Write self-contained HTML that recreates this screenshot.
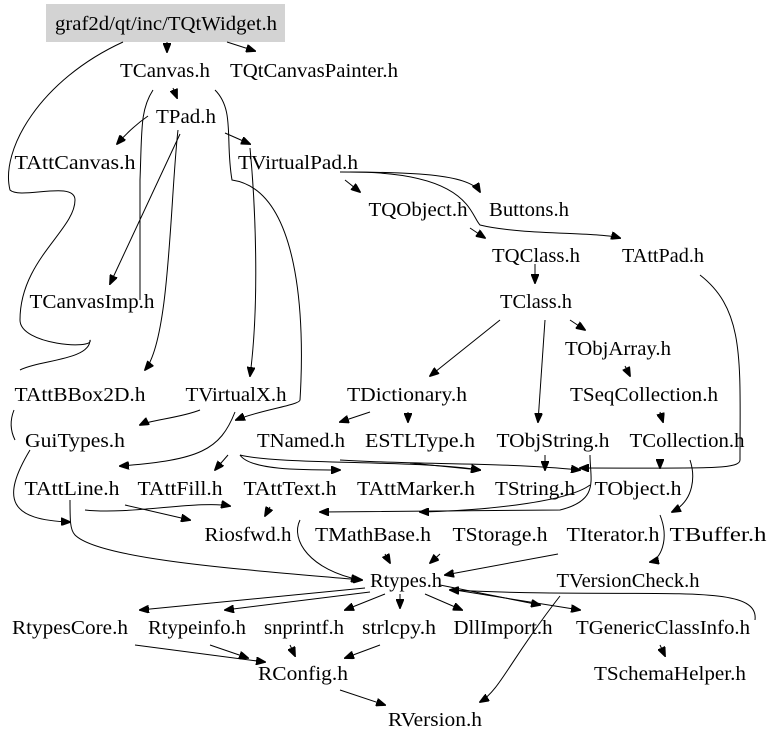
<!DOCTYPE html>
<html><head><meta charset="utf-8"><style>
html,body{margin:0;padding:0;background:#fff;width:768px;height:744px;overflow:hidden}
svg text{font-family:"Liberation Serif",serif;font-size:20px;fill:#000;text-anchor:middle}
path,line{stroke:#000;fill:none;stroke-width:1}
</style></head><body>
<svg width="768" height="744" viewBox="0 0 768 744">
<defs><marker id="a" markerWidth="10" markerHeight="8" refX="9" refY="4" orient="auto" markerUnits="userSpaceOnUse"><path d="M0,0 L10,4 L0,8 Z" style="fill:#000;stroke:#000"/></marker></defs>
<rect x="46" y="4" width="239" height="38" fill="#d3d3d3"/>
<g marker-end="url(#a)">
<line x1="167" y1="42" x2="167" y2="52"/>
<line x1="227" y1="42" x2="255" y2="51"/>
<line x1="173" y1="88" x2="177" y2="98"/>
<path d="M148,116 C135,125 125,135 117,144"/>
<line x1="225" y1="133" x2="250" y2="144"/>
<line x1="180" y1="134" x2="110" y2="284"/>
<path d="M178,130 C170,200 170,340 145,370"/>
<path d="M340,172 C420,172 470,175 480,192"/>
<path d="M350,172 C470,172 470,215 480,225 C520,235 600,232 620,238"/>
<line x1="345" y1="180" x2="360" y2="192"/>
<line x1="470" y1="228" x2="485" y2="238"/>
<line x1="535" y1="264" x2="535" y2="283"/>
<line x1="570" y1="320" x2="585" y2="330"/>
<line x1="500" y1="320" x2="430" y2="376"/>
<line x1="625" y1="366" x2="630" y2="376"/>
<line x1="660" y1="412" x2="663" y2="422"/>
<line x1="370" y1="412" x2="340" y2="422"/>
<line x1="408" y1="412" x2="408" y2="422"/>
<line x1="545" y1="320" x2="538" y2="422"/>
<path d="M700,275 C745,310 740,360 740,460 C740,470 700,468 580,468"/>
<path d="M250,148 C255,200 260,300 250,376"/>
<path d="M215,90 C235,110 225,140 232,180 C300,190 305,320 300,400 C300,405 260,410 236,420"/>
<path d="M200,410 C180,418 150,420 140,425"/>
<path d="M235,412 C220,450 200,460 120,466"/>
<line x1="228" y1="455" x2="215" y2="470"/>
<path d="M240,455 C250,470 300,470 340,470"/>
<path d="M240,455 C280,465 420,460 480,470"/>
<path d="M340,460 C420,465 500,462 580,470"/>
<line x1="545" y1="455" x2="545" y2="470"/>
<line x1="410" y1="463" x2="480" y2="470"/>
<path d="M660,460 L660,468"/>
<path d="M690,460 C695,475 695,500 672,512"/>
<path d="M125,505 L190,520"/>
<path d="M85,510 C130,515 200,500 230,506"/>
<line x1="270" y1="507" x2="265" y2="516"/>
<path d="M590,455 C590,480 600,500 560,510 L320,512"/>
<path d="M590,485 C570,500 500,510 420,512"/>
<path d="M300,520 C290,540 310,570 360,580"/>
<path d="M70,500 C70,520 70,530 75,535 C100,560 250,570 362,580"/>
<path d="M30,450 C0,500 10,520 70,522"/>
<line x1="385" y1="554" x2="390" y2="563"/>
<line x1="440" y1="554" x2="430" y2="563"/>
<line x1="558" y1="554" x2="445" y2="575"/>
<path d="M660,515 C670,540 660,560 650,562"/>
<line x1="365" y1="588" x2="140" y2="610"/>
<line x1="370" y1="592" x2="225" y2="610"/>
<line x1="385" y1="594" x2="345" y2="610"/>
<line x1="400" y1="594" x2="400" y2="608"/>
<line x1="425" y1="594" x2="462" y2="610"/>
<line x1="455" y1="590" x2="580" y2="610"/>
<line x1="440" y1="585" x2="540" y2="605"/>
<path d="M755,620 C760,580 650,600 450,590"/>
<path d="M560,596 C510,660 500,690 480,702"/>
<line x1="135" y1="645" x2="265" y2="662"/>
<line x1="210" y1="645" x2="248" y2="658"/>
<line x1="290" y1="645" x2="295" y2="656"/>
<line x1="380" y1="645" x2="345" y2="658"/>
<line x1="660" y1="645" x2="665" y2="656"/>
<line x1="340" y1="690" x2="385" y2="705"/>
</g>
<path d="M123,42 C40,80 0,150 10,190 C20,200 75,180 75,200 C75,230 20,260 20,320 C20,345 95,350 90,340 C90,360 40,360 20,370"/>
<path d="M153,90 C140,110 142,130 140,180 L140,300"/>
<path d="M14,410 C10,420 10,430 15,440"/>
<text x="166" y="30" textLength="222" lengthAdjust="spacingAndGlyphs">graf2d/qt/inc/TQtWidget.h</text>
<text x="165" y="77" textLength="90" lengthAdjust="spacingAndGlyphs">TCanvas.h</text>
<text x="314" y="77" textLength="168" lengthAdjust="spacingAndGlyphs">TQtCanvasPainter.h</text>
<text x="186" y="123" textLength="60" lengthAdjust="spacingAndGlyphs">TPad.h</text>
<text x="75" y="169" textLength="121" lengthAdjust="spacingAndGlyphs">TAttCanvas.h</text>
<text x="298" y="169" textLength="120" lengthAdjust="spacingAndGlyphs">TVirtualPad.h</text>
<text x="418" y="216" textLength="99" lengthAdjust="spacingAndGlyphs">TQObject.h</text>
<text x="529" y="216" textLength="80" lengthAdjust="spacingAndGlyphs">Buttons.h</text>
<text x="536" y="262" textLength="88" lengthAdjust="spacingAndGlyphs">TQClass.h</text>
<text x="663" y="262" textLength="82" lengthAdjust="spacingAndGlyphs">TAttPad.h</text>
<text x="92" y="308" textLength="125" lengthAdjust="spacingAndGlyphs">TCanvasImp.h</text>
<text x="536" y="308" textLength="72" lengthAdjust="spacingAndGlyphs">TClass.h</text>
<text x="618" y="355" textLength="106" lengthAdjust="spacingAndGlyphs">TObjArray.h</text>
<text x="80" y="401" textLength="131" lengthAdjust="spacingAndGlyphs">TAttBBox2D.h</text>
<text x="236" y="401" textLength="101" lengthAdjust="spacingAndGlyphs">TVirtualX.h</text>
<text x="407" y="401" textLength="120" lengthAdjust="spacingAndGlyphs">TDictionary.h</text>
<text x="644" y="401" textLength="148" lengthAdjust="spacingAndGlyphs">TSeqCollection.h</text>
<text x="75" y="447" textLength="100" lengthAdjust="spacingAndGlyphs">GuiTypes.h</text>
<text x="301" y="447" textLength="88" lengthAdjust="spacingAndGlyphs">TNamed.h</text>
<text x="420" y="447" textLength="110" lengthAdjust="spacingAndGlyphs">ESTLType.h</text>
<text x="553" y="447" textLength="113" lengthAdjust="spacingAndGlyphs">TObjString.h</text>
<text x="687" y="447" textLength="115" lengthAdjust="spacingAndGlyphs">TCollection.h</text>
<text x="72" y="495" textLength="95" lengthAdjust="spacingAndGlyphs">TAttLine.h</text>
<text x="180" y="495" textLength="85" lengthAdjust="spacingAndGlyphs">TAttFill.h</text>
<text x="290" y="495" textLength="93" lengthAdjust="spacingAndGlyphs">TAttText.h</text>
<text x="416" y="495" textLength="118" lengthAdjust="spacingAndGlyphs">TAttMarker.h</text>
<text x="535" y="495" textLength="80" lengthAdjust="spacingAndGlyphs">TString.h</text>
<text x="638" y="495" textLength="87" lengthAdjust="spacingAndGlyphs">TObject.h</text>
<text x="248" y="541" textLength="87" lengthAdjust="spacingAndGlyphs">Riosfwd.h</text>
<text x="373" y="541" textLength="116" lengthAdjust="spacingAndGlyphs">TMathBase.h</text>
<text x="500" y="541" textLength="95" lengthAdjust="spacingAndGlyphs">TStorage.h</text>
<text x="613" y="541" textLength="93" lengthAdjust="spacingAndGlyphs">TIterator.h</text>
<text x="718" y="541" textLength="97" lengthAdjust="spacingAndGlyphs">TBuffer.h</text>
<text x="406" y="587" textLength="72" lengthAdjust="spacingAndGlyphs">Rtypes.h</text>
<text x="628" y="587" textLength="143" lengthAdjust="spacingAndGlyphs">TVersionCheck.h</text>
<text x="70" y="634" textLength="116" lengthAdjust="spacingAndGlyphs">RtypesCore.h</text>
<text x="197" y="634" textLength="98" lengthAdjust="spacingAndGlyphs">Rtypeinfo.h</text>
<text x="304" y="634" textLength="80" lengthAdjust="spacingAndGlyphs">snprintf.h</text>
<text x="399" y="634" textLength="74" lengthAdjust="spacingAndGlyphs">strlcpy.h</text>
<text x="503" y="634" textLength="99" lengthAdjust="spacingAndGlyphs">DllImport.h</text>
<text x="663" y="634" textLength="174" lengthAdjust="spacingAndGlyphs">TGenericClassInfo.h</text>
<text x="303" y="680" textLength="90" lengthAdjust="spacingAndGlyphs">RConfig.h</text>
<text x="670" y="680" textLength="152" lengthAdjust="spacingAndGlyphs">TSchemaHelper.h</text>
<text x="435" y="726" textLength="94" lengthAdjust="spacingAndGlyphs">RVersion.h</text>
</svg>
</body></html>
